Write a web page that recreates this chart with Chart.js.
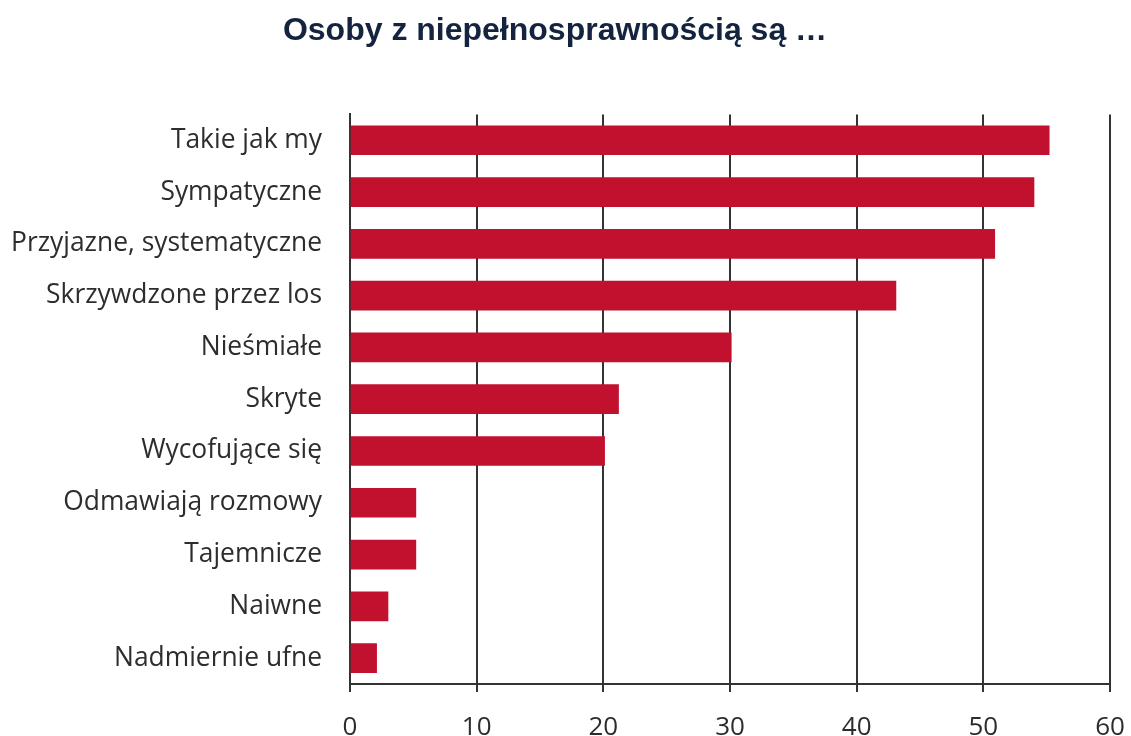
<!DOCTYPE html>
<html>
<head>
<meta charset="utf-8">
<script src="https://cdn.jsdelivr.net/npm/chart.js@4"></script>
<style>
  html, body { margin: 0; padding: 0; background: #ffffff; }
  #wrap { width: 1131px; height: 736px; }
</style>
</head>
<body>
<div id="wrap"><canvas id="c" width="1131" height="736"></canvas></div>
<script>
const titleText = 'Osoby z niepełnosprawnością są …';
const categories = [
  'Takie jak my',
  'Sympatyczne',
  'Przyjazne, systematyczne',
  'Skrzywdzone przez los',
  'Nieśmiałe',
  'Skryte',
  'Wycofujące się',
  'Odmawiają rozmowy',
  'Tajemnicze',
  'Naiwne',
  'Nadmiernie ufne'
];
const values = [55.2, 54.0, 50.9, 43.1, 30.1, 21.2, 20.1, 5.2, 5.2, 3.0, 2.1];
const xMin = 0;
const xMax = 60;
const xStep = 10;

const ink = '#333333';

new Chart(document.getElementById('c'), {
  type: 'bar',
  data: {
    labels: categories,
    datasets: [{
      data: values,
      backgroundColor: '#c1112e',
      borderWidth: 0,
      barThickness: 29
    }]
  },
  options: {
    indexAxis: 'y',
    responsive: false,
    animation: false,
    layout: { padding: { left: 0, right: 21, top: 0, bottom: 0 } },
    plugins: {
      legend: { display: false },
      tooltip: { enabled: false },
      title: {
        display: true,
        text: titleText,
        color: '#14243f',
        font: { family: 'Liberation Sans', size: 32, weight: 'bold' },
        padding: { top: 12, bottom: 64 }
      }
    },
    scales: {
      x: {
        min: xMin,
        max: xMax,
        ticks: {
          stepSize: xStep,
          color: '#2d2d2d',
          font: { family: 'Open Sans', size: 26 },
          padding: 20
        },
        grid: { color: ink, lineWidth: 2, tickLength: 8, drawTicks: true },
        border: { display: true, color: ink, width: 2 },
        afterFit: (s) => { s.height = 52; s.paddingLeft = 0; s.paddingRight = 0; }
      },
      y: {
        grid: { display: false },
        border: { display: true, color: ink, width: 2 },
        ticks: {
          color: '#2d2d2d',
          font: { family: 'Open Sans', size: 26.4 },
          padding: 20
        },
        afterFit: (s) => { s.width = 350; s.paddingTop = 0; s.paddingBottom = 0; }
      }
    }
  }
});
</script>
</body>
</html>
